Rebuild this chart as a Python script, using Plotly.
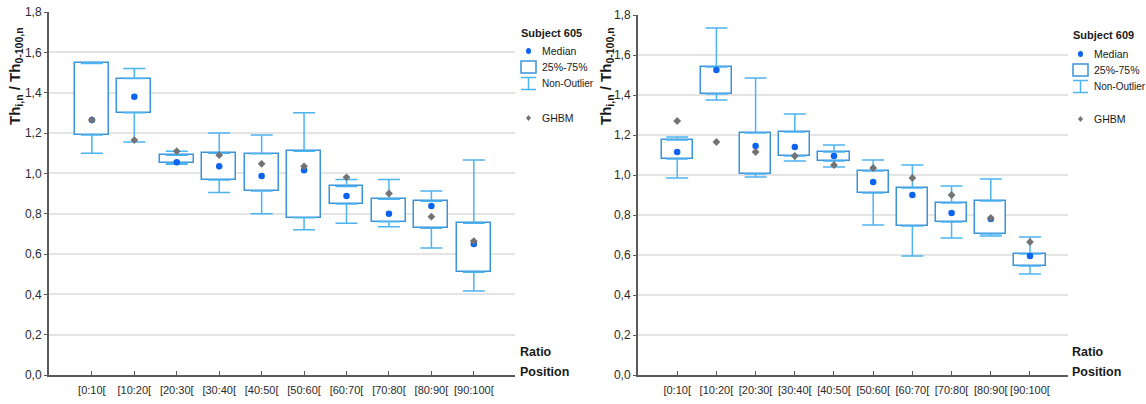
import plotly.graph_objects as go
import numpy as np

W, H = 1146, 404

categories = ["[0:10[", "[10:20[", "[20:30[", "[30:40[", "[40:50[",
              "[50:60[", "[60:70[", "[70:80[", "[80:90[", "[90:100["]

# Subject 605
s605_q1 = [1.19, 1.30, 1.05, 0.967, 0.913, 0.78, 0.848, 0.76, 0.728, 0.51]
s605_q3 = [1.545, 1.47, 1.09, 1.10, 1.097, 1.11, 0.935, 0.872, 0.862, 0.753]
s605_low = [1.10, 1.155, 1.045, 0.905, 0.80, 0.72, 0.753, 0.735, 0.63, 0.416]
s605_high = [1.55, 1.52, 1.11, 1.20, 1.19, 1.30, 0.97, 0.97, 0.912, 1.066]
s605_median = [1.265, 1.38, 1.055, 1.035, 0.987, 1.015, 0.888, 0.80, 0.838, 0.65]
s605_ghbm = [1.265, 1.165, 1.11, 1.09, 1.047, 1.035, 0.98, 0.90, 0.785, 0.664]

# Subject 609
s609_q1 = [1.08, 1.405, 1.005, 1.095, 1.07, 0.91, 0.745, 0.765, 0.705, 0.545]
s609_q3 = [1.175, 1.54, 1.21, 1.215, 1.115, 1.02, 0.935, 0.86, 0.87, 0.605]
s609_low = [0.985, 1.375, 0.99, 1.07, 1.04, 0.75, 0.595, 0.685, 0.695, 0.505]
s609_high = [1.19, 1.735, 1.485, 1.305, 1.15, 1.075, 1.05, 0.945, 0.98, 0.69]
s609_median = [1.115, 1.525, 1.145, 1.14, 1.095, 0.965, 0.90, 0.81, 0.78, 0.595]
s609_ghbm = [1.27, 1.165, 1.115, 1.095, 1.05, 1.035, 0.985, 0.90, 0.785, 0.665]

y_ticks = [0.0, 0.2, 0.4, 0.6, 0.8, 1.0, 1.2, 1.4, 1.6, 1.8]
grid_vals = [0.2, 0.4, 0.6, 0.8, 1.0, 1.2, 1.4, 1.6]

BOX_C = "#3b94da"
WHISK_C = "#4db4f2"
MED_C = "#0b63f0"
GHBM_C = "#737373"
AXIS_C = "#5a5a5a"
GRID_C = "#e4e4e4"
FONT = "Liberation Sans, Arial, sans-serif"
TXT_C = "#2a2a2a"

fig = go.Figure()


def add_subject(q1, q3, low, high, med, ghbm, xa, ya):
    q1 = np.array(q1); q3 = np.array(q3)
    low = np.array(low); high = np.array(high)
    zeros = np.zeros(len(q1))
    fig.add_trace(go.Bar(x=categories, y=q3 - q1, base=q1, width=0.8,
                         marker=dict(color="white", line=dict(color=BOX_C, width=1.5)),
                         xaxis=xa, yaxis=ya, showlegend=False, hoverinfo="skip"))
    fig.add_trace(go.Scatter(x=categories, y=q3, mode="markers",
                             marker=dict(size=1, color="rgba(0,0,0,0)"),
                             error_y=dict(type="data", symmetric=False, array=high - q3,
                                          arrayminus=zeros, width=11, thickness=1.5,
                                          color=WHISK_C),
                             xaxis=xa, yaxis=ya, showlegend=False, hoverinfo="skip"))
    fig.add_trace(go.Scatter(x=categories, y=q1, mode="markers",
                             marker=dict(size=1, color="rgba(0,0,0,0)"),
                             error_y=dict(type="data", symmetric=False, array=zeros,
                                          arrayminus=q1 - low, width=11, thickness=1.5,
                                          color=WHISK_C),
                             xaxis=xa, yaxis=ya, showlegend=False, hoverinfo="skip"))
    fig.add_trace(go.Scatter(x=categories, y=med, mode="markers",
                             marker=dict(size=6.5, color=MED_C, symbol="circle"),
                             xaxis=xa, yaxis=ya, showlegend=False))
    fig.add_trace(go.Scatter(x=categories, y=ghbm, mode="markers",
                             marker=dict(size=6, color=GHBM_C, symbol="diamond"),
                             xaxis=xa, yaxis=ya, showlegend=False))


add_subject(s605_q1, s605_q3, s605_low, s605_high, s605_median, s605_ghbm, "x", "y")
add_subject(s609_q1, s609_q3, s609_low, s609_high, s609_median, s609_ghbm, "x2", "y2")


def px(x):
    return x / W


def py(y):
    return 1 - y / H


xaxis_common = dict(type="category", showline=True, linecolor=AXIS_C, linewidth=2,
                    ticks="inside", ticklen=4, tickcolor=AXIS_C, tickwidth=1,
                    showgrid=False, zeroline=False, automargin=False, tickangle=0,
                    tickfont=dict(family=FONT, size=11, color=TXT_C),
                    ticklabelstandoff=4)
yaxis_common = dict(range=[0, 1.8], tickvals=y_ticks, tickformat=".1f",
                    showline=True, linecolor=AXIS_C, linewidth=2,
                    ticks="outside", ticklen=3, tickcolor=AXIS_C,
                    showgrid=False, zeroline=False, automargin=False,
                    tickfont=dict(family=FONT, size=12, color=TXT_C),
                    minor=dict(tickvals=grid_vals, showgrid=True, gridcolor=GRID_C,
                               gridwidth=2, ticks=""))

fig.update_layout(
    width=W, height=H, margin=dict(l=0, r=0, t=0, b=0, autoexpand=False),
    paper_bgcolor="white", plot_bgcolor="white",
    separators=",.", showlegend=False, bargap=0,
    xaxis=dict(domain=[px(49), px(515)], range=[-1.01, 9.97], anchor="y", **xaxis_common),
    yaxis=dict(domain=[py(375), py(12)], anchor="x", **yaxis_common),
    xaxis2=dict(domain=[px(638), px(1068)], range=[-1.0, 9.97], anchor="y2", **xaxis_common),
    yaxis2=dict(domain=[py(375), py(15)], anchor="x2", **yaxis_common),
)

annotations = []
shapes = []


def text(x, y, s, size=12, bold=False, angle=0, xanchor="left"):
    annotations.append(dict(x=px(x), y=py(y), xref="paper", yref="paper", text=s,
                            showarrow=False, xanchor=xanchor, yanchor="middle",
                            textangle=angle,
                            font=dict(family=FONT, size=size,
                                      color="#1a1a1a", weight="bold" if bold else "normal")))


def legend(x0, ytitle, title, gap_y):
    ym, yb, yn, yg = gap_y
    text(x0 - 1, ytitle, title, size=11, bold=True)
    tx = x0 + 20
    text(tx, ym, "Median", size=10.5)
    text(tx, yb, "25%-75%", size=10.5)
    text(tx, yn, "Non-Outlier", size=10)
    text(tx, yg, "GHBM", size=10.5)
    cx = x0 + 8.5
    shapes.append(dict(type="circle", xref="paper", yref="paper",
                       x0=px(cx - 2.5), x1=px(cx + 2.5), y0=py(ym - 3), y1=py(ym + 3),
                       fillcolor=MED_C, line=dict(width=0)))
    shapes.append(dict(type="rect", xref="paper", yref="paper",
                       x0=px(x0 + 1), x1=px(x0 + 16), y0=py(yb - 6), y1=py(yb + 6),
                       fillcolor="white", line=dict(color=BOX_C, width=1.5)))
    shapes.append(dict(type="path", xref="paper", yref="paper",
                       path=f"M {px(x0+1)},{py(yn-6.5)} L {px(x0+16)},{py(yn-6.5)} "
                            f"M {px(cx)},{py(yn-6.5)} L {px(cx)},{py(yn+5.5)} "
                            f"M {px(x0+1)},{py(yn+5.5)} L {px(x0+16)},{py(yn+5.5)}",
                       line=dict(color=WHISK_C, width=1.5)))
    shapes.append(dict(type="path", xref="paper", yref="paper",
                       path=f"M {px(cx)},{py(yg-3)} L {px(cx+2.5)},{py(yg)} "
                            f"L {px(cx)},{py(yg+3)} L {px(cx-2.5)},{py(yg)} Z",
                       fillcolor=GHBM_C, line=dict(width=0)))


legend(520, 33, "Subject 605", (51, 67, 84, 118))
legend(1072, 35, "Subject 609", (54, 70, 87, 119))

ytitle = "Th<sub>i,n</sub> / Th<sub>0-100,n</sub>"
text(16, 76, ytitle, size=15, bold=True, angle=-90, xanchor="center")
text(607, 76, ytitle, size=15, bold=True, angle=-90, xanchor="center")

text(518, 352, "Ratio", size=12.5, bold=True)
text(518, 372, "Position", size=12.5, bold=True)
text(1070, 352, "Ratio", size=12.5, bold=True)
text(1070, 372, "Position", size=12.5, bold=True)

fig.update_layout(annotations=annotations, shapes=shapes)

fig.write_html("out.html", config={"displayModeBar": False},
               post_script="document.body.style.margin='0px';")
